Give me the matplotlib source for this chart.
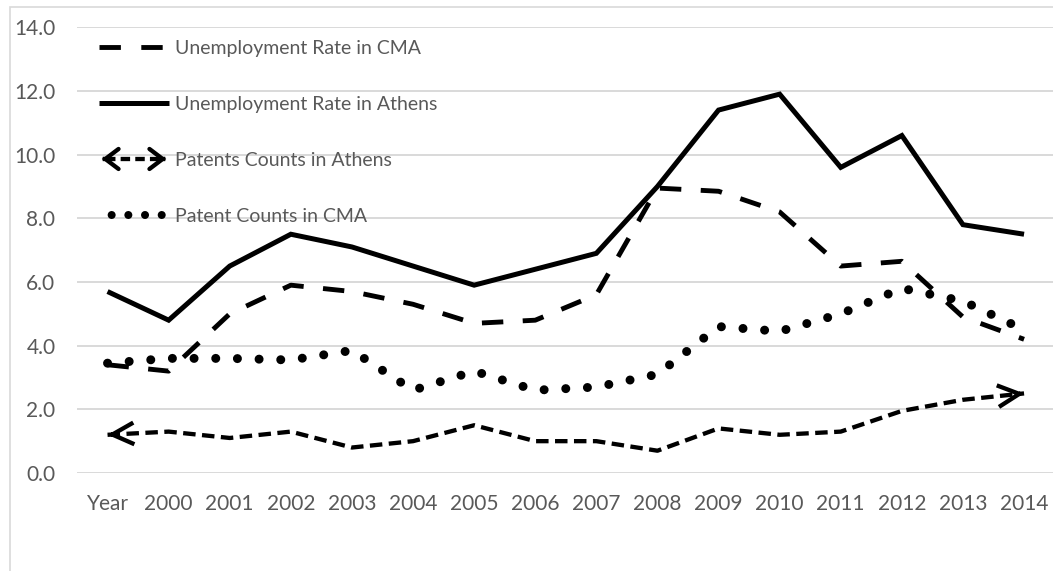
import matplotlib
matplotlib.use("Agg")
import matplotlib.pyplot as plt
from matplotlib.lines import Line2D
from matplotlib.patches import FancyArrowPatch, Rectangle
from matplotlib.legend_handler import HandlerBase

# ---------------- data ----------------
categories = ["Year", "2000", "2001", "2002", "2003", "2004", "2005", "2006",
              "2007", "2008", "2009", "2010", "2011", "2012", "2013", "2014"]
unemp_cma = [3.4, 3.2, 5.0, 5.9, 5.7, 5.3, 4.7, 4.8, 5.6, 8.95, 8.85, 8.2, 6.5, 6.65, 4.9, 4.2]
unemp_athens = [5.7, 4.8, 6.5, 7.5, 7.1, 6.5, 5.9, 6.4, 6.9, 9.0, 11.4, 11.9, 9.6, 10.6, 7.8, 7.5]
patents_athens = [1.2, 1.3, 1.1, 1.3, 0.8, 1.0, 1.5, 1.0, 1.0, 0.7, 1.4, 1.2, 1.3, 1.95, 2.3, 2.5]
patents_cma = [3.45, 3.6, 3.6, 3.55, 3.85, 2.6, 3.2, 2.6, 2.7, 3.1, 4.6, 4.45, 5.0, 5.8, 5.4, 4.5]
labels = ["Unemployment Rate in CMA", "Unemployment Rate in Athens",
          "Patents Counts in Athens", "Patent Counts in CMA"]
yticks = [0, 2, 4, 6, 8, 10, 12, 14]

TEXT = "#595959"
GRID = "#D9D9D9"
plt.rcParams["font.family"] = ["Lato", "DejaVu Sans"]

W, H, DPI = 1053, 571, 100
fig = plt.figure(figsize=(W / DPI, H / DPI), dpi=DPI)
ax_left, ax_right, ax_top, ax_bottom = 77, 1054.6, 27.3, 473.0
ax = fig.add_axes([ax_left / W, 1 - ax_bottom / H,
                   (ax_right - ax_left) / W, (ax_bottom - ax_top) / H])

x = list(range(len(categories)))

LW_SOLID = 3.6
LW_DASH = 3.5
LW_SHORT = 3.1
LW_DOT = 6.5

ax.plot(x, unemp_cma, color="black", lw=LW_DASH, linestyle=(0, (4.4, 4.0)),
        dash_capstyle="butt", solid_joinstyle="round")
ax.plot(x, unemp_athens, color="black", lw=LW_SOLID, solid_joinstyle="miter",
        solid_capstyle="butt")
ax.plot(x, patents_athens, color="black", lw=LW_SHORT, linestyle=(0, (2.9, 1.5)),
        dash_capstyle="butt")
ax.plot(x, patents_cma, color="black", lw=LW_DOT, linestyle=(0, (0.001, 2.4)),
        dash_capstyle="round")

# arrowheads at both ends of the Athens patents line
arrow_style = "->,head_length=15.5,head_width=7.8"
for i_end, i_prev in ((0, 1), (len(x) - 1, len(x) - 2)):
    xe, ye = x[i_end], patents_athens[i_end]
    xp, yp = x[i_prev], patents_athens[i_prev]
    eps = 0.08
    ax.annotate("", xy=(xe, ye), xytext=(xe + eps * (xp - xe), ye + eps * (yp - ye)),
                arrowprops=dict(arrowstyle=arrow_style, mutation_scale=1,
                                lw=LW_SHORT, color="black", shrinkA=0, shrinkB=0,
                                joinstyle="miter", capstyle="butt"))

ax.set_xlim(-0.5, len(x) - 0.5)
ax.set_ylim(0, 14)
ax.set_yticks(yticks)
ax.set_yticklabels([f"{v:.1f}" for v in yticks])
ax.set_xticks(x)
ax.set_xticklabels(categories)
ax.tick_params(axis="both", length=0, labelsize=15, labelcolor=TEXT)
ax.tick_params(axis="y", pad=15.5)
ax.tick_params(axis="x", pad=15)
for s in ax.spines.values():
    s.set_visible(False)
ax.grid(axis="y", color=GRID, lw=1.4)
ax.set_axisbelow(True)


# ---------------- legend ----------------
class HandlerDoubleArrow(HandlerBase):
    def create_artists(self, legend, orig_handle, xdescent, ydescent,
                       width, height, fontsize, trans):
        y = height / 2 - ydescent
        x0 = -xdescent + 2
        x1 = width - xdescent - 2
        line = Line2D([x0 + 3, x1 - 3], [y, y], color="black", lw=LW_SHORT,
                      linestyle=(0, (2.2, 1.2)), dash_capstyle="butt",
                      transform=trans)
        st = "->,head_length=9.5,head_width=7.2"
        a1 = FancyArrowPatch((x0 + 1, y), (x0, y), arrowstyle=st, mutation_scale=1,
                             lw=LW_SHORT, color="black", shrinkA=0, shrinkB=0,
                             joinstyle="miter", transform=trans)
        a2 = FancyArrowPatch((x1 - 1, y), (x1, y), arrowstyle=st, mutation_scale=1,
                             lw=LW_SHORT, color="black", shrinkA=0, shrinkB=0,
                             joinstyle="miter", transform=trans)
        return [line, a1, a2]


h_cma = Line2D([], [], color="black", lw=LW_DASH, linestyle=(0, (4.4, 4.2)),
               dash_capstyle="butt")
h_ath = Line2D([], [], color="black", lw=LW_SOLID, solid_capstyle="butt")
h_pat_ath = Line2D([], [], color="black", lw=LW_SHORT)
h_pat_cma = Line2D([], [], color="black", lw=5.8, linestyle=(0.5, (0.001, 2.07)),
                   dash_capstyle="round")

leg = fig.legend([h_cma, h_ath, h_pat_ath, h_pat_cma], labels,
                 loc="upper left", bbox_to_anchor=(99 / W, 1 - 40 / H),
                 frameon=False, fontsize=14, labelcolor=TEXT,
                 handlelength=3.6, handletextpad=0.33, labelspacing=2.0,
                 borderpad=0, borderaxespad=0,
                 handler_map={h_pat_ath: HandlerDoubleArrow()})

# light chart border (cropped at right and bottom)
fig.add_artist(Rectangle((10 / W, -0.1), 1.2, (H - 7) / H + 0.1,
                         transform=fig.transFigure, fill=False,
                         edgecolor=GRID, lw=1.2))

fig.savefig("out.png", dpi=DPI)
